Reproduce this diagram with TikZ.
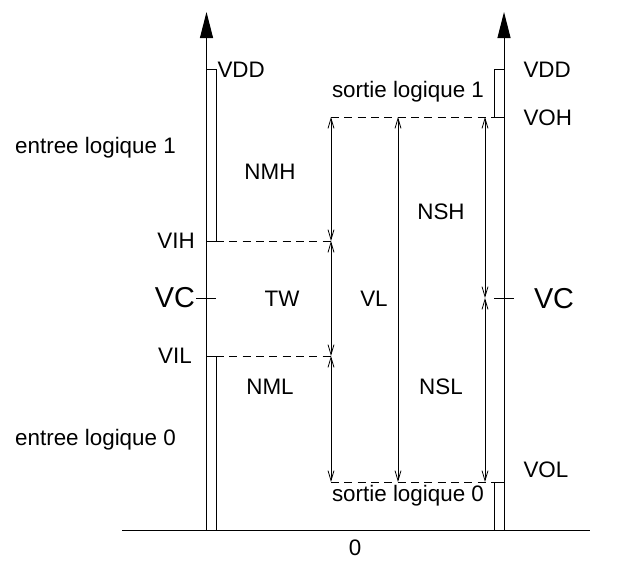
\documentclass[tikz,border=0pt]{standalone}
\usepackage{fontspec}
\setmainfont{Liberation Sans}
\usetikzlibrary{arrows.meta}
\begin{document}
\begin{tikzpicture}[x=0.75pt,y=-0.75pt,line width=0.75pt]
        \tikzstyle{txt} = [inner sep=0pt, font=\fontsize{16.8}{20}\selectfont]
        \tikzstyle{bigtxt} = [inner sep=0pt, font=\fontsize{21.6}{26}\selectfont]
        \tikzstyle{axis} = [-{Triangle[length=19.5pt,width=9.75pt]}]
        \tikzstyle{levelline} = [dash pattern=on 6pt off 4pt, line width=0.6pt]
        \tikzstyle{span} = [line width=0.6pt, {Straight Barb[length=7.5pt,width=4.5pt]}-{Straight Barb[length=7.5pt,width=4.5pt]}]

        \useasboundingbox (0,0) rectangle (627,561);

        % levels on both axes
        \coordinate (in0) at (206.5,530);
        \coordinate (intop) at (206.5,12);
        \coordinate (out0) at (504,530);
        \coordinate (outtop) at (504,12);
        \coordinate (vih) at (216,241);
        \coordinate (vil) at (216,356);
        \coordinate (voh) at (494,117);
        \coordinate (vol) at (494,482);
        \coordinate (baseL) at (122,530);
        \coordinate (baseR) at (590,530);

        % margin lines
        \coordinate (mA) at (331,117);
        \coordinate (mB) at (331,241);
        \coordinate (mC) at (331,356);
        \coordinate (mD) at (331,482);
        \coordinate (vA) at (398,117);
        \coordinate (vB) at (398,482);
        \coordinate (sA) at (485,117);
        \coordinate (sB) at (485,298);
        \coordinate (sC) at (485,482);

        \draw (baseL) -- (baseR);

        % logic bands
        \draw (206.5,69) rectangle (vih);
        \draw (206.5,530) rectangle (vil);
        \draw (504,69) rectangle (voh);
        \draw (504,530) rectangle (vol);

        \draw [axis] (in0) -- (intop);
        \draw [axis] (out0) -- (outtop);

        % VC ticks
        \draw (196,298) -- (216,298);
        \draw (494,298) -- (514,298);

        \draw [levelline] (vih) -- (mB);
        \draw [levelline] (vil) -- (mC);
        \draw [levelline] (mA) -- (voh);
        \draw [levelline] (mD) -- (vol);

        \draw [span] (mA) -- (mB);
        \draw [span] (mB) -- (mC);
        \draw [span] (mC) -- (mD);
        \draw [span] (vA) -- (vB);
        \draw [span] (sA) -- (sB);
        \draw [span] (sB) -- (sC);

        % labels
        \node (vddL) [txt, anchor=west] at (217,70) {VDD};
        \node (in1) [txt] at (95.5,148) {entree logique 1};
        \node (in0txt) [txt] at (95.5,440) {entree logique 0};
        \node (vihtxt) [txt] at (176,241) {VIH};
        \node (vcL) [bigtxt] at (175,298) {VC};
        \node (viltxt) [txt] at (175,356) {VIL};
        \node (nmh) [txt] at (270,172) {NMH};
        \node (tw) [txt] at (282,299) {TW};
        \node (nml) [txt] at (270,387) {NML};
        \node (vl) [txt] at (374,299) {VL};
        \node (nsh) [txt] at (441,212) {NSH};
        \node (nsl) [txt] at (441,387) {NSL};
        \node (out1) [txt] at (408,92) {sortie logique 1};
        \node (out0txt) [txt] at (408,496) {sortie logique 0};
        \node (vddR) [txt, anchor=west] at (523,70) {VDD};
        \node (vohtxt) [txt, anchor=west] at (523,118) {VOH};
        \node (vcR) [bigtxt] at (554,299) {VC};
        \node (voltxt) [txt, anchor=west] at (523,470) {VOL};
        \node (zero) [txt] at (355,548) {0};
\end{tikzpicture}
\end{document}
